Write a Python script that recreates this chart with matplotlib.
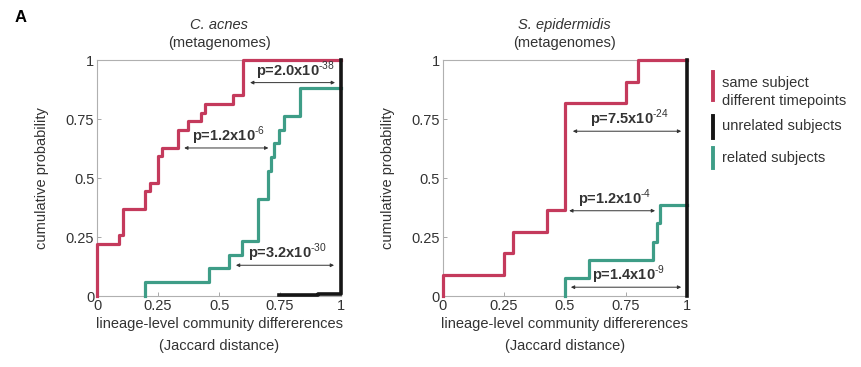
import matplotlib

matplotlib.use("Agg")
import matplotlib.pyplot as plt

plt.rcParams["font.family"] = ["Liberation Sans", "DejaVu Sans"]
plt.rcParams["mathtext.fontset"] = "custom"
plt.rcParams["mathtext.rm"] = "Liberation Sans"
plt.rcParams["mathtext.bf"] = "Liberation Sans:bold"

RED = "#c43a5c"
GREEN = "#3e9d87"
BLACK = "#151515"
GRAY = "#9a9a9a"

# C. acnes (left panel) step curves
acnes_same_x = [0, 0, 0.09, 0.107, 0.198, 0.219, 0.248, 0.268, 0.332, 0.371, 0.424, 0.443, 0.555, 0.599, 1.0]
acnes_same_y = [0, 0.222, 0.259, 0.370, 0.444, 0.481, 0.593, 0.630, 0.704, 0.741, 0.778, 0.815, 0.852, 1.0, 1.0]
acnes_rel_x = [0.196, 0.196, 0.46, 0.542, 0.595, 0.661, 0.699, 0.711, 0.726, 0.747, 0.766, 0.832, 1.0]
acnes_rel_y = [0, 0.059, 0.118, 0.176, 0.235, 0.412, 0.529, 0.588, 0.647, 0.706, 0.765, 0.882, 0.882]
acnes_unrel_x = [0.745, 0.905, 1.0]
acnes_unrel_y = [0.004, 0.011, 1.0]

# S. epidermidis (right panel) step curves
epi_same_x = [0, 0, 0.251, 0.287, 0.429, 0.501, 0.749, 0.798, 1.0]
epi_same_y = [0, 0.091, 0.182, 0.273, 0.364, 0.818, 0.909, 1.0, 1.0]
epi_rel_x = [0.499, 0.499, 0.601, 0.861, 0.876, 0.891, 1.0]
epi_rel_y = [0, 0.077, 0.154, 0.231, 0.308, 0.385, 0.385]
epi_unrel_x = [1.0, 1.0]
epi_unrel_y = [0, 1.0]

# p-value annotations: (mantissa, exponent, x_start, x_end, y)
acnes_pvals = [("2.0", "-38", 0.627, 0.975, 0.905),
               ("1.2", "-6", 0.357, 0.702, 0.628),
               ("3.2", "-30", 0.569, 0.971, 0.131)]
epi_pvals = [("7.5", "-24", 0.533, 0.977, 0.699),
             ("1.2", "-4", 0.518, 0.870, 0.362),
             ("1.4", "-9", 0.525, 0.977, 0.038)]

ticks = [0, 0.25, 0.5, 0.75, 1]
tick_labels = ["0", "0.25", "0.5", "0.75", "1"]

fig = plt.figure(figsize=(8.61, 3.67), dpi=100)
ax1 = fig.add_axes([0.1127, 0.193, 0.2835, 0.643])
ax2 = fig.add_axes([0.5142, 0.193, 0.2835, 0.643])


def draw_panel(ax, title, same, rel, unrel, pvals):
    ax.plot(rel[0], rel[1], drawstyle="steps-post", color=GREEN, lw=2.3, clip_on=False, zorder=3)
    ax.plot(same[0], same[1], drawstyle="steps-post", color=RED, lw=2.3, clip_on=False, zorder=4)
    ax.plot(unrel[0], unrel[1], drawstyle="steps-post", color=BLACK, lw=2.6, clip_on=False, zorder=5)
    ax.set_xlim(0, 1)
    ax.set_ylim(0, 1)
    ax.set_xticks(ticks)
    ax.set_xticklabels(tick_labels)
    ax.set_yticks(ticks)
    ax.set_yticklabels(tick_labels)
    ax.tick_params(direction="in", length=3, width=0.6, color=GRAY, labelsize=10.5, pad=2,
                   labelcolor="#333333")
    for s in ax.spines.values():
        s.set_color("#b0b0b0")
        s.set_linewidth(0.8)
    ax.set_xlabel("lineage-level community differerences\n(Jaccard distance)", fontsize=10.5,
                  linespacing=1.7, labelpad=3, color="#333333")
    ax.set_ylabel("cumulative probability", fontsize=10.5, labelpad=12, color="#333333")
    ax.text(0.5, 1.148, title, transform=ax.transAxes, ha="center", va="center", fontsize=10.5,
            style="italic", color="#333333")
    ax.text(0.5, 1.072, "(metagenomes)", transform=ax.transAxes, ha="center", va="center",
            fontsize=10.5, color="#333333")
    for mant, exp, x0, x1, y in pvals:
        ax.annotate("", xy=(x0, y), xytext=(x1, y),
                    arrowprops=dict(arrowstyle="<|-|>", color="#333333", lw=0.7, mutation_scale=5,
                                    shrinkA=0, shrinkB=0), zorder=6)
        ax.text((x0 + x1) / 2 + 0.01, y + 0.03, "p=%sx10$^{\\text{%s}}$" % (mant, exp), ha="center",
                va="baseline", fontsize=10.5, fontweight="bold", color="#333333", zorder=6)


draw_panel(ax1, "C. acnes", (acnes_same_x, acnes_same_y), (acnes_rel_x, acnes_rel_y),
           (acnes_unrel_x, acnes_unrel_y), acnes_pvals)
draw_panel(ax2, "S. epidermidis", (epi_same_x, epi_same_y), (epi_rel_x, epi_rel_y),
           (epi_unrel_x, epi_unrel_y), epi_pvals)

fig.text(15 / 861, 1 - 18 / 367, "A", fontsize=12, fontweight="bold", ha="left", va="center")

# legend drawn by hand: coloured bars + labels
legend_items = [(RED, "same subject\ndifferent timepoints", 72, 100, 92),
                (BLACK, "unrelated subjects", 116, 138, 126),
                (GREEN, "related subjects", 148, 168, 158)]
for color, label, top, bot, ytxt in legend_items:
    fig.add_artist(plt.Line2D([713 / 861, 713 / 861], [1 - top / 367, 1 - bot / 367],
                              color=color, lw=2.8, transform=fig.transFigure))
    fig.text(722 / 861, 1 - ytxt / 367, label, fontsize=10.5, ha="left", va="center",
             color="#333333", linespacing=1.4)

fig.savefig("out.png", dpi=100)
